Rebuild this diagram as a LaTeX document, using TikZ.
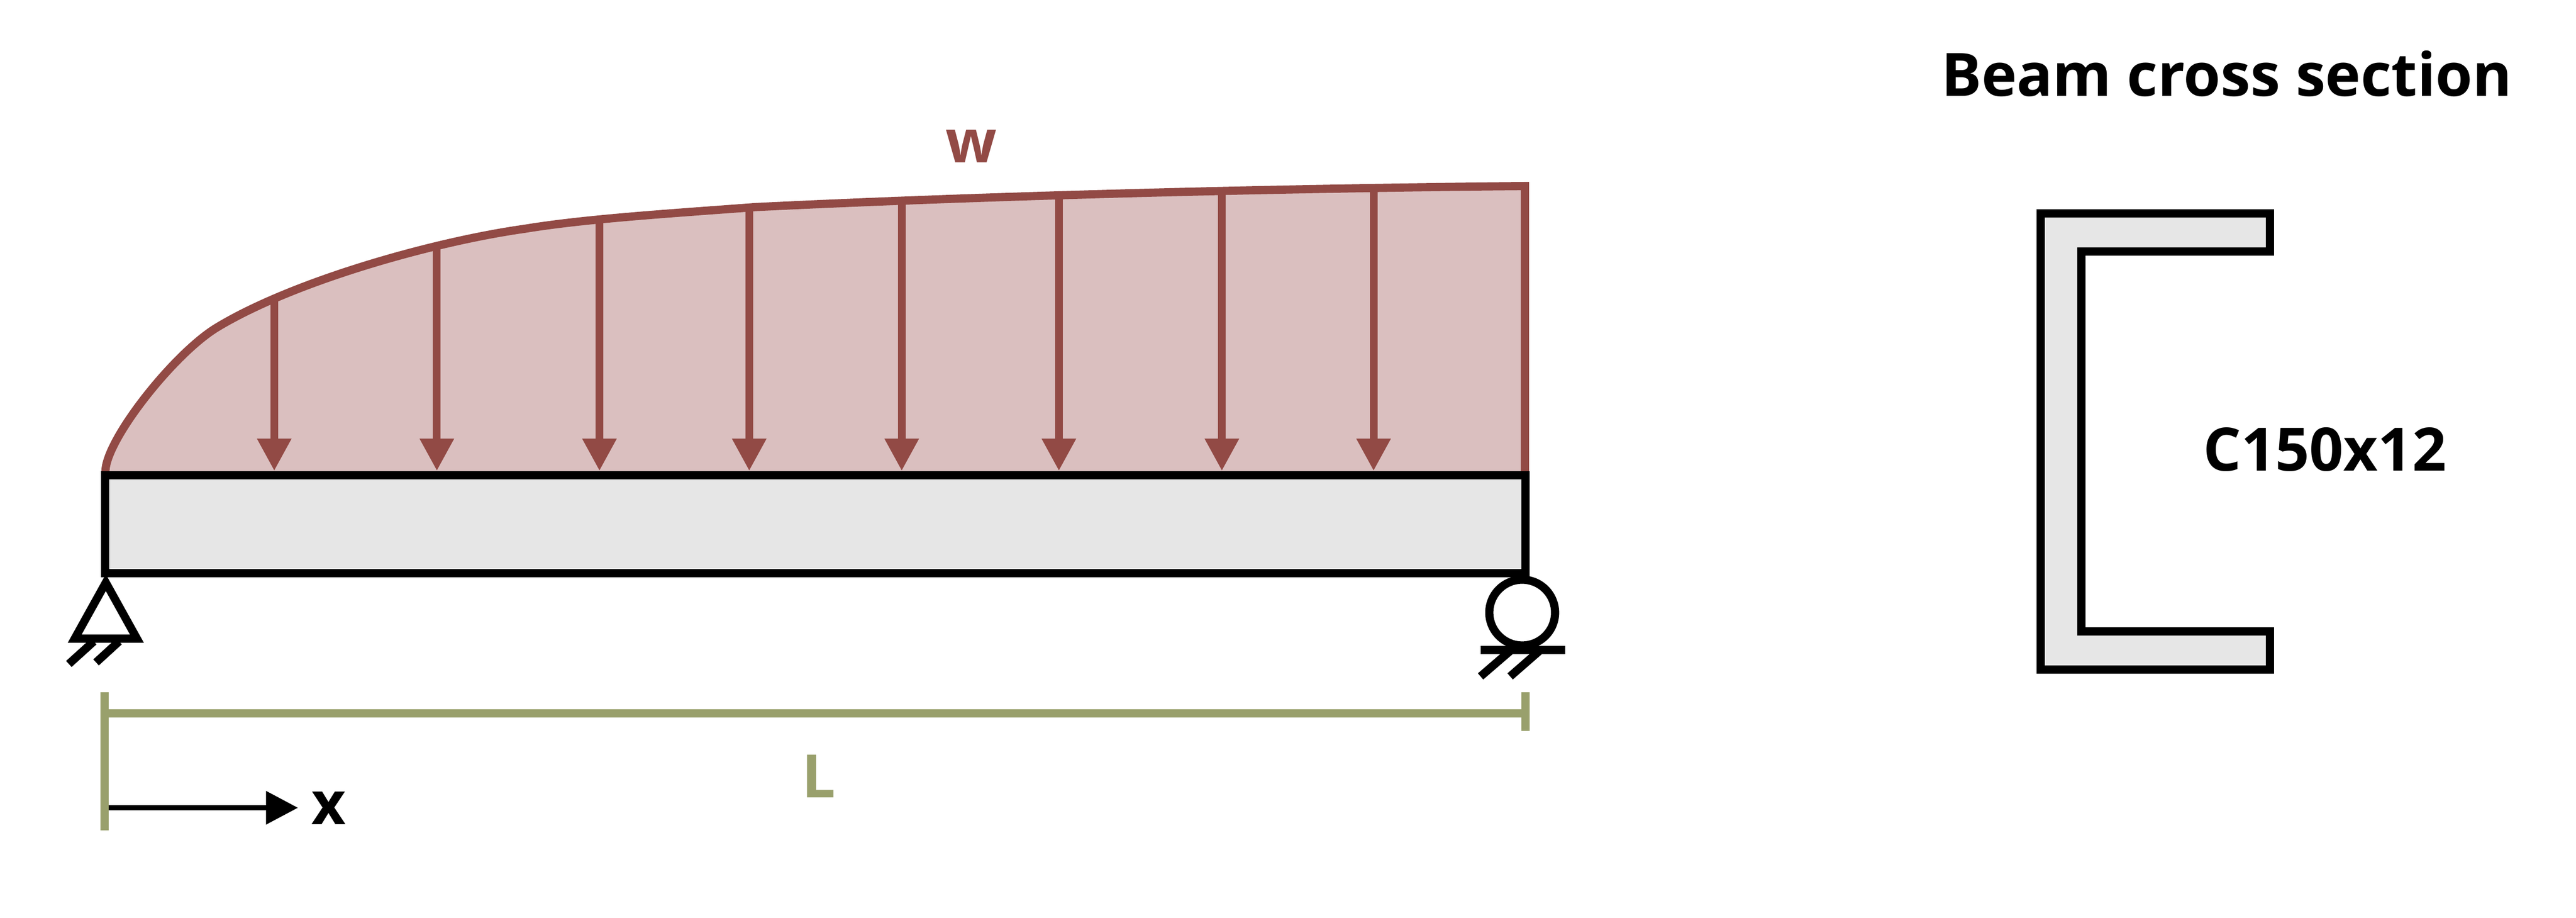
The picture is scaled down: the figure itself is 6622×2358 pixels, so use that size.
\documentclass[tikz,border=0pt]{standalone}
\usepackage{fontspec}
\setmainfont{Open Sans}
\usetikzlibrary{arrows.meta}
\definecolor{loadred}{HTML}{924A45}
\definecolor{loadpink}{HTML}{DABFBF}
\definecolor{beamgrey}{HTML}{E6E6E6}
\definecolor{dimolive}{HTML}{99A06C}
\begin{document}
\begin{tikzpicture}[x=0.01cm,y=-0.01cm,
thick line/.style={line width=0.21cm},
beam/.style={draw,thick line,fill=beamgrey,minimum width=36.49cm,minimum height=2.52cm,inner sep=0pt},
loadarrow/.style={draw=loadred,line width=0.2cm,-{Triangle[length=0.83cm,width=0.83cm,fill=loadred]}},
dimline/.style={draw=dimolive,thick line},
label/.style={font=\fontsize{43.7pt}{52pt}\selectfont\bfseries,inner sep=0pt}]
\useasboundingbox (0,0) rectangle (6622,2358);
\def\loadtop{(271,1212) .. controls (271,1130) and (450,905) .. (560,840) .. controls (760,720) and (1120,620) .. (1348,588) .. controls (1500,563) and (1700,550) .. (1943,532) .. controls (2500,505) and (3200,485) .. (3920,478)}
\fill[loadpink] \loadtop -- (3920,1221) -- (271,1221) -- cycle;
\draw[loadred,thick line] \loadtop -- (3920,1212);
\foreach \n/\x/\y in {1/705/762,2/1123/636,3/1541/565,4/1926/533,5/2318/515,6/2722/500,7/3141/490,8/3531/483}
{\coordinate (t\n) at (\x,\y);
\coordinate (h\n) at (\x,1210);
\draw[loadarrow] (t\n) -- (h\n);}
\node[beam] (beam) at (2095.5,1347) {};
\draw[thick line,miter limit=10] (272,1497) -- (192,1641) -- (352,1641) -- cycle;
\node[draw,thick line,fill=white,circle,minimum size=1.69cm,inner sep=0pt] (roller) at (3913,1574) {};
\coordinate (rolleft) at (3806,1669.5);
\coordinate (rolright) at (4023,1669.5);
\draw[thick line] (rolleft) -- (rolright);
\foreach \a/\b/\c/\d in {177/1706/241/1648,247/1702/306/1648,3806/1738/3885/1670,3882/1738/3960/1670}
{\draw[thick line] (\a,\b) -- (\c,\d);}
\coordinate (dima) at (269,1833);
\coordinate (dimb) at (3921,1833);
\coordinate (dimc) at (269,1779);
\coordinate (dimd) at (269,2134);
\coordinate (dime) at (3921,1779);
\coordinate (dimf) at (3921,1878);
\path[dimline] (dima) edge (dimb);
\path[dimline] (dimc) edge (dimd);
\path[dimline] (dime) edge (dimf);
\coordinate (xstart) at (280,2075.5);
\coordinate (xend) at (766,2075.5);
\draw[line width=0.13cm,-{Triangle[length=0.82cm,width=0.83cm]}] (xstart) -- (xend);
\node[label,text=loadred] (w) at (2497,376.5) {w};
\node[label,text=dimolive] (len) at (2104.5,1994) {L};
\node[label] (x) at (845,2077) {x};
\node[label] (title) at (5724,190) {Beam cross section};
\node[label] (size) at (5976,1155) {C150x12};
\draw[thick line,fill=beamgrey,miter limit=10] (5246,548) -- (5835,548) -- (5835,646) -- (5350,646) -- (5350,1622) -- (5835,1622) -- (5835,1720) -- (5246,1720) -- cycle;
\end{tikzpicture}
\end{document}
